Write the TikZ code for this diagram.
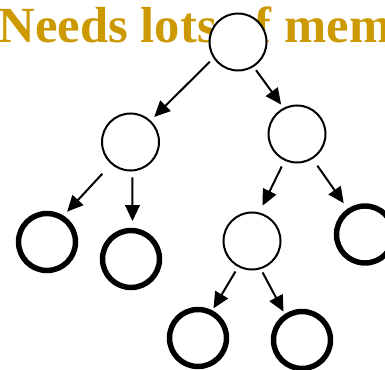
\documentclass[tikz,border=0pt]{standalone}
\usepackage{fontspec}
\setmainfont{Liberation Serif}
\usetikzlibrary{arrows.meta}

\definecolor{memgold}{RGB}{204,153,0}

\tikzset{
  interior/.style={draw, circle, fill=white, line width=1.5pt, minimum size=42.75pt, inner sep=0pt, outer sep=0pt},
  leafnode/.style={interior, line width=4.1pt},
  pointer/.style={-{Triangle[length=12pt,width=11pt]}, line width=1.5pt},
}

\begin{document}
\begin{tikzpicture}[x=0.75pt,y=-0.75pt]
\clip (0,0) rectangle (385,370);
\node[anchor=base west, inner sep=0pt, text=memgold, font=\bfseries\fontsize{38}{42}\selectfont] (title) at (-1.5,42.5) {Needs lots of mem};

% inner nodes
\node[interior] (root) at (238,42) {};
\node[interior] (l) at (130.5,142) {};
\node[interior] (r) at (297,134) {};
\node[interior] (rl) at (252,241) {};

% leaves
\node[leafnode] (ll) at (47,242) {};
\node[leafnode] (lr) at (131,259) {};
\node[leafnode] (rr) at (365,234.5) {};
\node[leafnode] (rll) at (198,338) {};
\node[leafnode] (rlr) at (302,340) {};

\draw[pointer, shorten <=4.5pt, shorten >=4.5pt] (root.213) -- (l.47);
\draw[pointer, shorten <=3.75pt, shorten >=3.75pt] (root.302) -- (r.117);
\draw[pointer, shorten <=10.5pt, shorten >=6pt] (l.229) -- (ll.59);
\draw[pointer, shorten <=5.25pt, shorten >=7.1pt] (l.274) -- (lr.87);
\draw[pointer, shorten <=5.6pt, shorten >=6.4pt] (r.245) -- (rl.76);
\draw[pointer, shorten <=6.9pt, shorten >=7pt] (r.302) -- (rr.124);
\draw[pointer, shorten <=4.7pt, shorten >=3.75pt] (rl.242) -- (rll.63);
\draw[pointer, shorten <=3.5pt, shorten >=4pt] (rl.287) -- (rlr.124);
\end{tikzpicture}
\end{document}
